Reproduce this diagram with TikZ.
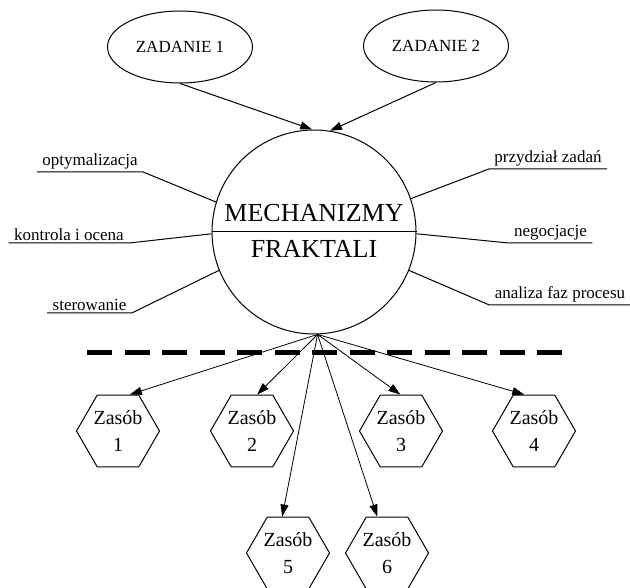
\documentclass[tikz,border=0pt]{standalone}
\usepackage{fontspec}
\setmainfont{Liberation Serif}
\usetikzlibrary{shapes.geometric,arrows.meta}

\begin{document}
\begin{tikzpicture}[x=1pt,y=-1pt,>={Triangle[length=12pt,width=8pt]},line width=1pt,
    task/.style={ellipse,draw,minimum width=145pt,minimum height=72pt,inner sep=0pt,font=\fontsize{17}{20}\selectfont},
    res/.style={regular polygon,regular polygon sides=6,draw,minimum size=83pt,inner sep=0pt,align=center,font=\fontsize{20}{27}\selectfont},
    lbl/.style={inner xsep=5pt,inner ysep=2pt,anchor=south,font=\fontsize{17}{20}\selectfont},
    big/.style={anchor=base,font=\fontsize{26}{30}\selectfont}]

  \useasboundingbox (0,0) rectangle (630,588);

  % tasks and the mechanisms
  \node[task] (Z1) at (180,47) {ZADANIE 1};
  \node[task] (Z2) at (436,46) {ZADANIE 2};
  \node[circle,draw,minimum size=204pt,inner sep=0pt] (M) at (314,232) {};
  \draw (M.west) -- (M.east);
  \node[big] (mech) at (314,222) {MECHANIZMY};
  \node[big] (frak) at (314,258) {FRAKTALI};

  \draw[->] (Z1.south) -- (M.91);
  \draw[->] (Z2.south) -- (M.81);

  % labels round the circle
  \node[lbl] (opt) at (90,172) {optymalizacja};
  \node[lbl] (kon) at (69,243) {kontrola i ocena};
  \node[lbl] (ste) at (89.5,313) {sterowanie};
  \node[lbl] (prz) at (548,169) {przydział zadań};
  \node[lbl] (neg) at (550.5,243) {negocjacje};
  \node[lbl] (ana) at (560,305) {analiza faz procesu};

  \draw (opt.south west) -- (opt.south east) -- (M.163);
  \draw (kon.south west) -- (kon.south east) -- (M.181);
  \draw (ste.south west) -- (ste.south east) -- (M.202);
  \draw (prz.south east) -- (prz.south west) -- (M.19);
  \draw (neg.south east) -- (neg.south west) -- (M.359);
  \draw (ana.south east) -- (ana.south west) -- (M.338);

  % separator
  \coordinate (sepL) at (87,353);
  \coordinate (sepR) at (562,353);
  \draw[line width=5pt,dash pattern=on 25pt off 12.5pt] (sepL) -- (sepR);

  % resources
  \node[res] (R1) at (118,431) {Zasób\\1};
  \node[res] (R2) at (252,431) {Zasób\\2};
  \node[res] (R3) at (401,431) {Zasób\\3};
  \node[res] (R4) at (534,431) {Zasób\\4};
  \node[res] (R5) at (288,553) {Zasób\\5};
  \node[res] (R6) at (387,553) {Zasób\\6};

  \draw[->,line width=0.8pt] (M.272) -- (R1.72);
  \draw[->,line width=0.8pt] (M.272) -- (R2.82);
  \draw[->,line width=0.8pt] (M.272) -- (R3.91);
  \draw[->,line width=0.8pt] (M.272) -- (R4.105);
  \draw[->,line width=0.8pt] (M.272) -- (R5.99);
  \draw[->,line width=0.8pt] (M.272) -- (R6.105);
\end{tikzpicture}
\end{document}
